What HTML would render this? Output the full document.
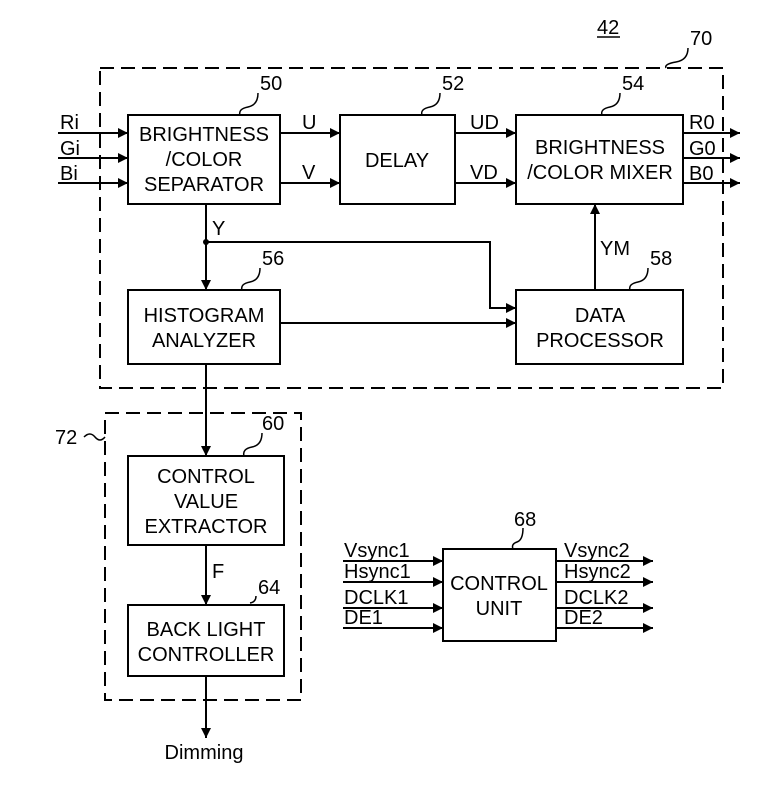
<!DOCTYPE html>
<html><head><style>body{margin:0;background:#fff}svg{display:block}text{font-family:"Liberation Sans",sans-serif;font-size:20px;fill:#000}</style></head><body>
<svg width="783" height="796" viewBox="0 0 783 796" xmlns="http://www.w3.org/2000/svg">
<defs><marker id="a" viewBox="0 0 10 10" refX="10" refY="5" markerWidth="14" markerHeight="10" markerUnits="userSpaceOnUse" orient="auto"><path d="M0,0L10,5L0,10z" fill="#000"/></marker></defs>
<g fill="none" stroke="#000" stroke-width="2">
<rect x="100" y="68" width="623" height="320" stroke-dasharray="14,7"/>
<rect x="105" y="413" width="196" height="287" stroke-dasharray="14,7"/>
<rect x="128" y="115" width="152" height="89"/>
<rect x="340" y="115" width="115" height="89"/>
<rect x="516" y="115" width="167" height="89"/>
<rect x="128" y="290" width="152" height="74"/>
<rect x="516" y="290" width="167" height="74"/>
<rect x="128" y="456" width="156" height="89"/>
<rect x="128" y="605" width="156" height="71"/>
<rect x="443" y="549" width="113" height="92"/>
<g marker-end="url(#a)">
<path d="M58 133H128"/><path d="M58 158H128"/><path d="M58 183H128"/>
<path d="M280 133H340"/><path d="M280 183H340"/>
<path d="M455 133H516"/><path d="M455 183H516"/>
<path d="M683 133H740"/><path d="M683 158H740"/><path d="M683 183H740"/>
<path d="M206 204V290"/><path d="M206 242H490V308H516"/><path d="M280 323H516"/>
<path d="M595 290V204"/><path d="M206 364V456"/><path d="M206 545V605"/><path d="M206 676V738"/>
<path d="M343 561H443"/><path d="M343 582H443"/><path d="M343 608H443"/><path d="M343 628H443"/>
<path d="M556 561H653"/><path d="M556 582H653"/><path d="M556 608H653"/><path d="M556 628H653"/>
</g>
<path d="M258 93q0 12 -10 14t-8 8" stroke-width="1.5"/>
<path d="M440 93q0 12 -10 14t-8 8" stroke-width="1.5"/>
<path d="M620 93q0 12 -10 14t-8 8" stroke-width="1.5"/>
<path d="M260 268q0 12 -10 14t-8 8" stroke-width="1.5"/>
<path d="M648 268q0 12 -10 14t-8 8" stroke-width="1.5"/>
<path d="M262 433q0 12 -10 14t-8 9" stroke-width="1.5"/>
<path d="M256 596q0 6 -6 7" stroke-width="1.5"/>
<path d="M523 528q0 12 -6 14t-4 7" stroke-width="1.5"/>
<path d="M688 48q0 12 -12 14t-10 6" stroke-width="1.5"/>
<path d="M84 437q6 -6 11 0t10 0" stroke-width="1.5"/>
<path d="M597 37H620" stroke-width="1.5"/>
</g>
<circle cx="206" cy="242" r="3"/>
<g text-anchor="middle">
<text x="204" y="141">BRIGHTNESS</text><text x="204" y="166">/COLOR</text><text x="204" y="191">SEPARATOR</text>
<text x="397" y="167">DELAY</text>
<text x="600" y="154">BRIGHTNESS</text><text x="600" y="179">/COLOR MIXER</text>
<text x="204" y="322">HISTOGRAM</text><text x="204" y="347">ANALYZER</text>
<text x="600" y="322">DATA</text><text x="600" y="347">PROCESSOR</text>
<text x="206" y="483">CONTROL</text><text x="206" y="508">VALUE</text><text x="206" y="533">EXTRACTOR</text>
<text x="206" y="636">BACK LIGHT</text><text x="206" y="661">CONTROLLER</text>
<text x="499" y="590">CONTROL</text><text x="499" y="615">UNIT</text>
<text x="204" y="759">Dimming</text>
</g>
<text x="260" y="90">50</text><text x="442" y="90">52</text><text x="622" y="90">54</text>
<text x="262" y="265">56</text><text x="650" y="265">58</text><text x="262" y="430">60</text>
<text x="258" y="594">64</text><text x="514" y="526">68</text><text x="690" y="45">70</text>
<text x="55" y="444">72</text><text x="597" y="34">42</text>
<text x="60" y="129">Ri</text><text x="60" y="155">Gi</text><text x="60" y="180">Bi</text>
<text x="302" y="129">U</text><text x="302" y="179">V</text>
<text x="470" y="129">UD</text><text x="470" y="179">VD</text>
<text x="689" y="129">R0</text><text x="689" y="155">G0</text><text x="689" y="180">B0</text>
<text x="212" y="235">Y</text><text x="600" y="255">YM</text><text x="212" y="578">F</text>
<text x="344" y="557">Vsync1</text><text x="344" y="578">Hsync1</text><text x="344" y="604">DCLK1</text><text x="344" y="624">DE1</text>
<text x="564" y="557">Vsync2</text><text x="564" y="578">Hsync2</text><text x="564" y="604">DCLK2</text><text x="564" y="624">DE2</text>
</svg>
</body></html>
